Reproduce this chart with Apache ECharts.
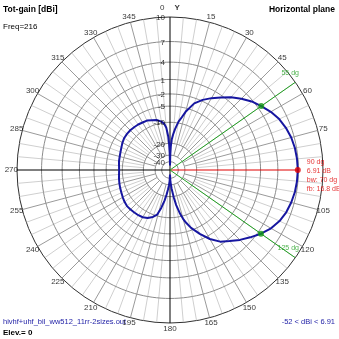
<!DOCTYPE html>
<html><head><meta charset="utf-8">
<script src="https://cdn.jsdelivr.net/npm/echarts@6/dist/echarts.min.js"></script>
<style>html,body{margin:0;padding:0;background:#fff}#c{width:339px;height:339px}</style>
</head><body><div id="c"></div>
<script>
// ---- data ----
const scaleMaxDb = 10;
const ringDb = [7, 4, 1, -2, -5, -10, -20, -30, -40];
const ringLabels = ['10', '7', '4', '1', '-2', '-5', '-10', '-20', '-30', '-40'];
const ringLabelDb = [10, 7, 4, 1, -2, -5, -10, -20, -30, -40];
const angleTicks = [15,30,45,60,75,105,120,135,150,165,180,195,210,225,240,255,270,285,300,315,330,345];
const angleTickLabels = ['15','30','45','60','75','105','120','135','150','165','180','195','210','225','240','255','270','285','300','315','330','345'];
const patternAz = [0,1,2,3,5,7,10,12,15,20,25,30,35,40,45,50,55,60,65,70,75,80,85,90,
  95,100,105,110,115,120,125,130,135,140,145,150,155,160,163,165,167,170,172,175,178,180,
  182,184,186,188,190,193,196,200,205,210,215,220,225,230,235,240,245,250,255,260,265,270,
  275,280,285,290,295,300,305,310,315,320,325,330,335,340,345,350,353,355,357,358,359,360];
const patternDb = [-50,-30,-22,-18,-15,-12.5,-9.5,-8.3,-6,-3.2,-1.7,-0.5,0.6,1.8,2.85,3.8,4.55,5.3,5.9,6.3,6.6,6.78,6.87,6.91,
  6.87,6.78,6.6,6.35,5.95,5.35,4.5,3.5,2.5,1.4,0.4,-1.2,-3.3,-5.6,-7.5,-9,-11,-15,-19,-26,-34,-50,
  -35,-29,-25,-21,-17.5,-13.5,-10.5,-9.2,-8.2,-7.7,-7.5,-7.4,-7.3,-7.2,-7.4,-7.7,-8.0,-8.2,-8.4,-8.6,-8.8,-8.9,
  -8.8,-8.6,-8.5,-8.3,-8.0,-7.6,-7.3,-7.2,-7.2,-7.3,-7.4,-7.6,-7.7,-8.2,-8.6,-9.5,-10.5,-12,-16,-20,-28,-50];
const maxAz = 90, maxDb = 6.91, beamWidth = 70, frontBack = 16.8;
const halfPowerAz = [55, 125];
const halfPowerDb = [4.55, 4.5];
const minDb = -52;

// ---- styling helpers ----
const hpLabelOffsets = [[0,-5],[0,-14]];
const FONT = 'Arial';

// ARRL log scale: 2 dB steps shrink radius by 0.89
function arrl(db){ return Math.pow(0.89, (scaleMaxDb - db) / 2); }

const series = [];
const ringPts = r => { const d=[]; for(let a=0;a<=360;a+=2) d.push([r,a]); return d; };
ringDb.forEach(db => series.push({type:'line', coordinateSystem:'polar', data: ringPts(arrl(db)),
  symbol:'none', silent:true, clip:false, lineStyle:{color:'#8c8c8c', width:1}, z:1}));
// spokes
const minor=[], major=[];
for(let a=5;a<360;a+=5){
  if(a%90===0) continue;
  if(a%15===0){ major.push([arrl(-30),a],[1,a],['-','-']); }
  else { minor.push([arrl(-20),a],[1,a],['-','-']); }
}
series.push({type:'line',coordinateSystem:'polar',data:minor,symbol:'none',silent:true,clip:false,
  lineStyle:{color:'#cfcfcf',width:1},z:0});
series.push({type:'line',coordinateSystem:'polar',data:major,symbol:'none',silent:true,clip:false,
  lineStyle:{color:'#9a9a9a',width:1},z:1});
// main axes
series.push({type:'line',coordinateSystem:'polar',data:[[1,0],[0,0],[1,180]],symbol:'none',silent:true,clip:false,
  lineStyle:{color:'#000',width:1},z:2});
series.push({type:'line',coordinateSystem:'polar',data:[[1,270],[0,270]],symbol:'none',silent:true,clip:false,
  lineStyle:{color:'#000',width:1},z:2});
series.push({type:'line',coordinateSystem:'polar',data:[[0,maxAz],[arrl(maxDb),maxAz]],symbol:'none',silent:true,clip:false,
  lineStyle:{color:'#e00000',width:1},z:3});
// half power lines
halfPowerAz.forEach((a,i)=>{
  series.push({type:'line',coordinateSystem:'polar',data:[[0,a],[1.045,a]],symbol:'none',silent:true,clip:false,
    lineStyle:{color:'#22a022',width:1},z:3});
  series.push({type:'scatter',coordinateSystem:'polar',data:[[1.045,a]],symbolSize:0,silent:true,clip:false,z:6,
    label:{show:true,position:'left',distance:2,offset:hpLabelOffsets[i],formatter:a+' dg',fontSize:7,color:'#22a022',fontFamily:FONT}});
});
// pattern
series.push({type:'line',coordinateSystem:'polar',data:patternAz.map((a,i)=>[arrl(patternDb[i]),a]),
  symbol:'none',clip:false,lineStyle:{color:'#1616a0',width:2},z:5});
// markers
series.push({type:'scatter',coordinateSystem:'polar',data:halfPowerAz.map((a,i)=>[arrl(halfPowerDb[i]),a]),
  symbolSize:6,itemStyle:{color:'#119911'},clip:false,z:7});
series.push({type:'scatter',coordinateSystem:'polar',data:[[arrl(maxDb),maxAz]],symbolSize:6,
  itemStyle:{color:'#e00000'},clip:false,z:7,
  label:{show:true,position:'right',distance:6,offset:[0,6],fontSize:7,lineHeight:9,color:'#e00000',fontFamily:FONT,
    formatter:`${maxAz} dg\n${maxDb} dB\nbw: ${beamWidth} dg\nfb: ${frontBack} dB`}});
// ring labels
series.push({type:'scatter',coordinateSystem:'polar',data:ringLabelDb.map((d,i)=>({value:[arrl(d),0],name:ringLabels[i]})),
  symbolSize:0,silent:true,clip:false,z:8,
  label:{show:true,position:'left',distance:5,offset:[0,1],formatter:p=>p.name,fontSize:8,color:'#000',fontFamily:FONT}});
// angle labels (placed just outside the outer ring)
series.push({type:'scatter',coordinateSystem:'polar',data:angleTicks.map((a,i)=>({value:[1.037,a],name:angleTickLabels[i]})),
  symbolSize:0,silent:true,clip:false,z:8,
  label:{show:true,position:'inside',formatter:p=>p.name,fontSize:8,color:'#000',fontFamily:FONT}});
series.push({type:'scatter',coordinateSystem:'polar',data:[{value:[1.06,0],name:'0'}],
  symbolSize:0,silent:true,clip:false,z:8,
  label:{show:true,position:'inside',formatter:'{n|0}   {y|Y}',
    rich:{n:{fontSize:8,color:'#000',fontFamily:FONT},y:{fontSize:8,fontWeight:'bold',color:'#000',fontFamily:FONT}}}});

const chart = echarts.init(document.getElementById('c'), null, {renderer:'canvas'});
chart.setOption({
  animation:false,
  backgroundColor:'#fff',
  title:[
    {text:'Tot-gain [dBi]',left:3,top:5,padding:0,textStyle:{fontSize:8.5,fontWeight:'bold',color:'#000',fontFamily:FONT}},
    {text:'Horizontal plane',right:4,top:5,padding:0,textStyle:{fontSize:8.5,fontWeight:'bold',color:'#000',fontFamily:FONT}},
    {text:'Freq=216',left:3,top:23,padding:0,textStyle:{fontSize:8,fontWeight:'normal',color:'#000',fontFamily:FONT}},
    {text:'hivhf+uhf_bil_ww512_11rr-2sizes.out',left:3,top:318,padding:0,textStyle:{fontSize:7.5,fontWeight:'normal',color:'#2424a8',fontFamily:FONT}},
    {text:'Elev.= 0',left:3,top:329,padding:0,textStyle:{fontSize:8,fontWeight:'bold',color:'#000',fontFamily:FONT}},
    {text:minDb+' < dBi < '+maxDb,right:4,top:318,padding:0,textStyle:{fontSize:7.5,fontWeight:'normal',color:'#2424a8',fontFamily:FONT}}
  ],
  polar:{center:[170,170],radius:153},
  angleAxis:{type:'value',min:0,max:360,interval:15,startAngle:90,clockwise:true,
    axisLine:{show:true,lineStyle:{color:'#303030',width:1}},
    axisTick:{show:false},splitLine:{show:false},axisLabel:{show:false}},
  radiusAxis:{type:'value',min:0,max:1,axisLine:{show:false},axisTick:{show:false},axisLabel:{show:false},splitLine:{show:false}},
  series:series
});
</script></body></html>
